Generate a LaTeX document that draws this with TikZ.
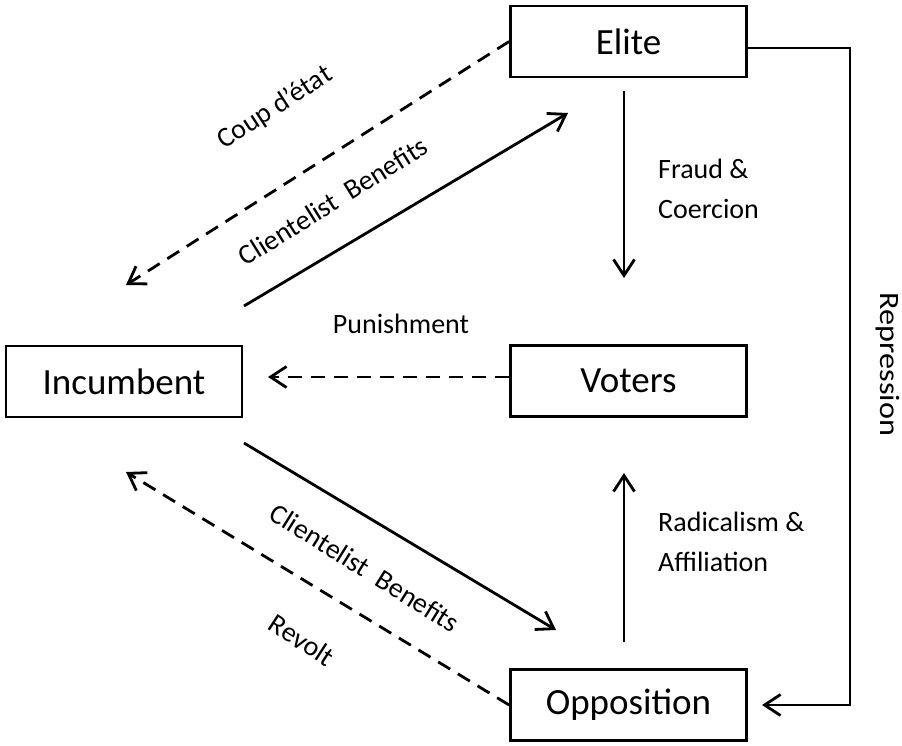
\documentclass[tikz,border=0pt]{standalone}
\usepackage{fontspec}
\usepackage{graphicx}
\setmainfont{Carlito}
\usetikzlibrary{arrows.meta}
\begin{document}
\begin{tikzpicture}[x=1pt,y=-1pt,
  box/.style={draw,line width=2.8pt,minimum width=236pt,minimum height=71pt,inner sep=0pt,font=\fontsize{37}{44}\selectfont},
  lbl/.style={inner sep=0pt,font=\fontsize{28}{40}\selectfont},
  conn/.style={line width=2.8pt,-{Straight Barb[length=16pt,width=21pt]}},
  dconn/.style={conn,dash pattern=on 14pt off 9pt}]
\fill[white] (0,0) rectangle (902,745);
\useasboundingbox (0,0) rectangle (902,745);
% boxes
\node[box] (elite) at (628.5,41.5) {Elite};
\node[box] (voters) at (628.5,381) {Voters};
\node[box] (incumbent) at (124,381.5) {Incumbent};
\node[box] (opposition) at (628.5,705) {Opposition};
% free ends
\coordinate (coupTip) at (126,285);
\coordinate (cbUpS) at (244,306);
\coordinate (cbUpT) at (568,113);
\coordinate (cbLoS) at (244,443);
\coordinate (cbLoT) at (556,630);
\coordinate (revTip) at (126,472);
\coordinate (fraudS) at (624,91);
\coordinate (fraudT) at (624,278);
\coordinate (radS) at (624,642);
\coordinate (radT) at (624,473);
\coordinate (punS) at (509,377);
\coordinate (punT) at (268,377);
\coordinate (repA) at (850,48);
\coordinate (repB) at (850,705);
\coordinate (repT) at (762,705);
% connectors
\draw[dconn] (elite.west) -- (coupTip);
\draw[conn] (cbUpS) -- (cbUpT);
\draw[conn] (cbLoS) -- (cbLoT);
\draw[dconn] (opposition.west) -- (revTip);
\draw[conn] (fraudS) -- (fraudT);
\draw[conn] (radS) -- (radT);
\draw[dconn] (punS) -- (punT);
\draw[conn] ([yshift=-6.5pt]elite.east) -- (repA) -- (repB) -- (repT);
% labels
\node[lbl,rotate=33] (lcoup) at (275,108) {Coup d’état};
\node[lbl,rotate=32] (lcbup) at (333,201) {Clientelist\ \ Benefits};
\node[lbl,rotate=-32] (lcblo) at (365,568) {Clientelist\ \ Benefits};
\node[lbl,rotate=-33] (lrev) at (302,640) {Revolt};
\node[lbl,anchor=base] (lpun) at (401,333) {Punishment};
\node[lbl,anchor=north west,align=left] (lfraud) at (658,159) {Fraud \&\\Coercion};
\node[lbl,anchor=north west,align=left] (lrad) at (658,512) {Radicalism \&\\Affiliation};
\node[lbl,rotate=-90,anchor=base] (lrep) at (880,364.5) {\scalebox{1.15}[1]{Repression}};
\end{tikzpicture}
\end{document}
